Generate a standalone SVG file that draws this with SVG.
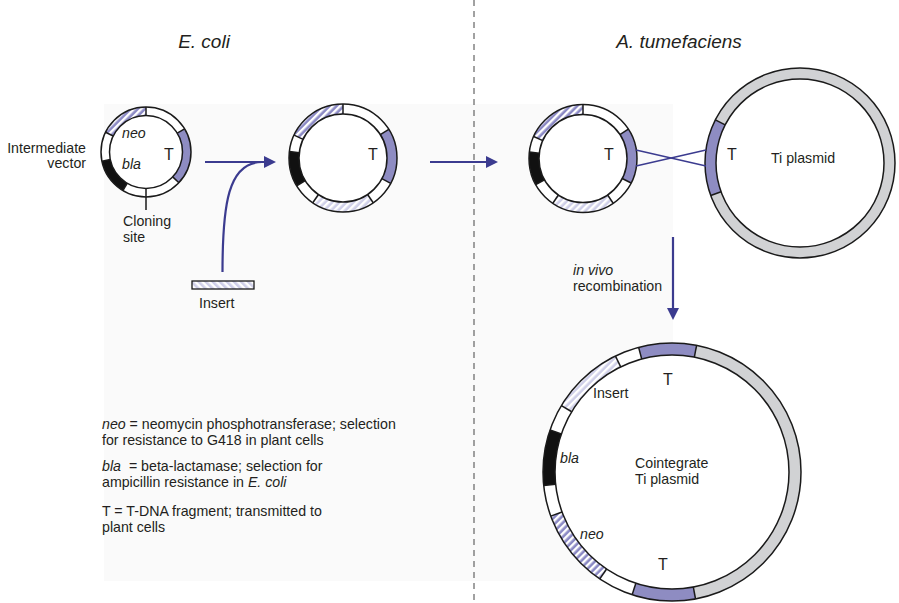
<svg xmlns="http://www.w3.org/2000/svg" width="899" height="603" viewBox="0 0 899 603">
  <defs>
    <pattern id="hatchDark" width="5" height="5" patternUnits="userSpaceOnUse" patternTransform="rotate(-45)">
      <rect width="5" height="5" fill="#ffffff"/>
      <rect width="2.6" height="5" fill="#8a88c4"/>
    </pattern>
    <pattern id="hatchLight" width="5" height="5" patternUnits="userSpaceOnUse" patternTransform="rotate(-45)">
      <rect width="5" height="5" fill="#ffffff"/>
      <rect width="2.6" height="5" fill="#cfcfe8"/>
    </pattern>
    <marker id="arrowhead" viewBox="0 0 12 12" refX="1" refY="6" markerWidth="12" markerHeight="12" markerUnits="userSpaceOnUse" orient="auto">
      <path d="M0,0 L12,6 L0,12 Z" fill="#3b3b8f"/>
    </marker>
  </defs>
  <style>
    text { font-family: "Liberation Sans", Arial, sans-serif; fill: #231f20; }
    .body { font-size: 14.2px; }
    .it { font-style: italic; }
    .head { font-size: 19px; font-style: italic; }
    .tlab { font-size: 16px; }
    .ring { fill: none; stroke: #1a1a1a; stroke-width: 1.5; }
    .seg { fill: none; }
    .div { stroke: #1a1a1a; stroke-width: 1.5; }
    .conn { fill: none; stroke: #3b3b8f; stroke-width: 2.2; }
    .cross { fill: none; stroke: #3b3b8f; stroke-width: 1.6; }
  </style>

  <rect width="899" height="603" fill="#ffffff"/>
  <!-- shaded panel behind the E. coli steps -->
  <rect x="104" y="104" width="569" height="477" fill="#fafafa"/>

  <!-- divider between the two hosts -->
  <line x1="474" y1="0" x2="474" y2="603" stroke="#444" stroke-width="1" stroke-dasharray="6 5"/>

  <text class="head" x="204" y="48" text-anchor="middle">E. coli</text>
  <text class="head" x="679" y="48" text-anchor="middle">A. tumefaciens</text>

  <!-- Intermediate vector -->
  <g id="intermediate-vector">
    <g transform="translate(146,152)">
      <circle r="36.5" fill="#ffffff"/>
      <g transform="rotate(-90)" stroke-width="8.5">
        <circle class="seg" r="40.75" pathLength="360" stroke="#ffffff"/>
        <circle class="seg" r="40.75" pathLength="360" stroke="url(#hatchDark)" stroke-dasharray="64 296" stroke-dashoffset="-296"/>
        <circle class="seg" r="40.75" pathLength="360" stroke="#8e8cc2" stroke-dasharray="74 286" stroke-dashoffset="-59"/>
        <circle class="seg" r="40.75" pathLength="360" stroke="#111111" stroke-dasharray="47 313" stroke-dashoffset="-211"/>
      </g>
      <circle class="ring" r="45"/>
      <circle class="ring" r="36.5"/>
      <g>
        <line class="div" x1="0" y1="-36.5" x2="0" y2="-45"/>
        <line class="div" x1="0" y1="-36.5" x2="0" y2="-45" transform="rotate(59)"/>
        <line class="div" x1="0" y1="-36.5" x2="0" y2="-45" transform="rotate(133)"/>
        <line class="div" x1="0" y1="-36.5" x2="0" y2="-45" transform="rotate(211)"/>
        <line class="div" x1="0" y1="-36.5" x2="0" y2="-45" transform="rotate(258)"/>
        <line class="div" x1="0" y1="-36.5" x2="0" y2="-45" transform="rotate(296)"/>
        <!-- cloning site tick -->
        <line class="div" x1="0" y1="36.5" x2="0" y2="58"/>
      </g>
    </g>
    <text class="body it" x="122" y="138">neo</text>
    <text class="body it" x="122" y="169">bla</text>
    <text class="tlab" x="169" y="160" text-anchor="middle">T</text>
    <text class="body" x="86" y="153" text-anchor="end">Intermediate</text>
    <text class="body" x="86" y="168" text-anchor="end">vector</text>
    <text class="body" x="123" y="226">Cloning</text>
    <text class="body" x="123" y="242">site</text>
  </g>

  <!-- Insert fragment -->
  <g id="insert">
    <rect x="192" y="281" width="62" height="8" fill="url(#hatchLight)" stroke="#1a1a1a" stroke-width="1.3"/>
    <text class="body" x="199" y="308">Insert</text>
  </g>

  <!-- Vector carrying the insert -->
  <g id="recombinant-vector">
    <g transform="translate(343,158)">
      <circle r="44" fill="#ffffff"/>
      <g transform="rotate(-90)" stroke-width="10">
        <circle class="seg" r="49" pathLength="360" stroke="#ffffff"/>
        <circle class="seg" r="49" pathLength="360" stroke="url(#hatchDark)" stroke-dasharray="65 295" stroke-dashoffset="-295"/>
        <circle class="seg" r="49" pathLength="360" stroke="#8e8cc2" stroke-dasharray="60 300" stroke-dashoffset="-58"/>
        <circle class="seg" r="49" pathLength="360" stroke="url(#hatchLight)" stroke-dasharray="68 292" stroke-dashoffset="-146"/>
        <circle class="seg" r="49" pathLength="360" stroke="#111111" stroke-dasharray="38 322" stroke-dashoffset="-239"/>
      </g>
      <circle class="ring" r="54"/>
      <circle class="ring" r="44"/>
      <line class="div" x1="0" y1="-44" x2="0" y2="-54"/>
      <line class="div" x1="0" y1="-44" x2="0" y2="-54" transform="rotate(58)"/>
      <line class="div" x1="0" y1="-44" x2="0" y2="-54" transform="rotate(118)"/>
      <line class="div" x1="0" y1="-44" x2="0" y2="-54" transform="rotate(146)"/>
      <line class="div" x1="0" y1="-44" x2="0" y2="-54" transform="rotate(214)"/>
      <line class="div" x1="0" y1="-44" x2="0" y2="-54" transform="rotate(239)"/>
      <line class="div" x1="0" y1="-44" x2="0" y2="-54" transform="rotate(277)"/>
      <line class="div" x1="0" y1="-44" x2="0" y2="-54" transform="rotate(295)"/>
    </g>
    <text class="tlab" x="373" y="160" text-anchor="middle">T</text>
  </g>

  <!-- Same vector inside Agrobacterium -->
  <g id="vector-in-agrobacterium">
    <g transform="translate(583,158.5)">
      <circle r="44" fill="#ffffff"/>
      <g transform="rotate(-90)" stroke-width="10">
        <circle class="seg" r="49" pathLength="360" stroke="#ffffff"/>
        <circle class="seg" r="49" pathLength="360" stroke="url(#hatchDark)" stroke-dasharray="66 294" stroke-dashoffset="-294"/>
        <circle class="seg" r="49" pathLength="360" stroke="#8e8cc2" stroke-dasharray="60 300" stroke-dashoffset="-57"/>
        <circle class="seg" r="49" pathLength="360" stroke="url(#hatchLight)" stroke-dasharray="68 292" stroke-dashoffset="-146"/>
        <circle class="seg" r="49" pathLength="360" stroke="#111111" stroke-dasharray="36 324" stroke-dashoffset="-241"/>
      </g>
      <circle class="ring" r="54"/>
      <circle class="ring" r="44"/>
      <line class="div" x1="0" y1="-44" x2="0" y2="-54"/>
      <line class="div" x1="0" y1="-44" x2="0" y2="-54" transform="rotate(57)"/>
      <line class="div" x1="0" y1="-44" x2="0" y2="-54" transform="rotate(117)"/>
      <line class="div" x1="0" y1="-44" x2="0" y2="-54" transform="rotate(146)"/>
      <line class="div" x1="0" y1="-44" x2="0" y2="-54" transform="rotate(214)"/>
      <line class="div" x1="0" y1="-44" x2="0" y2="-54" transform="rotate(241)"/>
      <line class="div" x1="0" y1="-44" x2="0" y2="-54" transform="rotate(277)"/>
      <line class="div" x1="0" y1="-44" x2="0" y2="-54" transform="rotate(294)"/>
    </g>
    <text class="tlab" x="609" y="160" text-anchor="middle">T</text>
  </g>

  <!-- Ti plasmid -->
  <g id="ti-plasmid">
    <g transform="translate(800,163)">
      <circle r="84" fill="#ffffff"/>
      <g transform="rotate(-90)" stroke-width="11">
        <circle class="seg" r="89.5" pathLength="360" stroke="#d1d2d4"/>
        <circle class="seg" r="89.5" pathLength="360" stroke="#8e8cc2" stroke-dasharray="47 313" stroke-dashoffset="-250"/>
      </g>
      <circle class="ring" r="95"/>
      <circle class="ring" r="84"/>
      <line class="div" x1="0" y1="-84" x2="0" y2="-95" transform="rotate(250)"/>
      <line class="div" x1="0" y1="-84" x2="0" y2="-95" transform="rotate(297)"/>
    </g>
    <text class="tlab" x="732" y="160" text-anchor="middle">T</text>
    <text class="body" x="803" y="163" text-anchor="middle">Ti plasmid</text>
  </g>

  <!-- Cointegrate Ti plasmid -->
  <g id="cointegrate">
    <g transform="translate(672,472)">
      <circle r="117" fill="#ffffff"/>
      <g transform="rotate(-90)" stroke-width="12">
        <circle class="seg" r="123" pathLength="360" stroke="#ffffff"/>
        <circle class="seg" r="123" pathLength="360" stroke="#d1d2d4" stroke-dasharray="158.5 201.5" stroke-dashoffset="-11"/>
        <circle class="seg" r="123" pathLength="360" stroke="#8e8cc2" stroke-dasharray="26 334" stroke-dashoffset="-345"/>
        <circle class="seg" r="123" pathLength="360" stroke="#8e8cc2" stroke-dasharray="28.5 331.5" stroke-dashoffset="-169.5"/>
        <circle class="seg" r="123" pathLength="360" stroke="url(#hatchDark)" stroke-dasharray="36 324" stroke-dashoffset="-214"/>
        <circle class="seg" r="123" pathLength="360" stroke="#111111" stroke-dasharray="25 335" stroke-dashoffset="-264"/>
        <circle class="seg" r="123" pathLength="360" stroke="url(#hatchLight)" stroke-dasharray="33 327" stroke-dashoffset="-301"/>
      </g>
      <circle class="ring" r="129"/>
      <circle class="ring" r="117"/>
      <line class="div" x1="0" y1="-117" x2="0" y2="-129" transform="rotate(11)"/>
      <line class="div" x1="0" y1="-117" x2="0" y2="-129" transform="rotate(169.5)"/>
      <line class="div" x1="0" y1="-117" x2="0" y2="-129" transform="rotate(198)"/>
      <line class="div" x1="0" y1="-117" x2="0" y2="-129" transform="rotate(214)"/>
      <line class="div" x1="0" y1="-117" x2="0" y2="-129" transform="rotate(250)"/>
      <line class="div" x1="0" y1="-117" x2="0" y2="-129" transform="rotate(264)"/>
      <line class="div" x1="0" y1="-117" x2="0" y2="-129" transform="rotate(289)"/>
      <line class="div" x1="0" y1="-117" x2="0" y2="-129" transform="rotate(301)"/>
      <line class="div" x1="0" y1="-117" x2="0" y2="-129" transform="rotate(334)"/>
      <line class="div" x1="0" y1="-117" x2="0" y2="-129" transform="rotate(345)"/>
    </g>
    <text class="tlab" x="668" y="385" text-anchor="middle">T</text>
    <text class="body" x="593" y="398">Insert</text>
    <text class="body it" x="560" y="463">bla</text>
    <text class="body" x="635" y="468">Cointegrate</text>
    <text class="body" x="635" y="484">Ti plasmid</text>
    <text class="body it" x="580" y="539">neo</text>
    <text class="tlab" x="663" y="570" text-anchor="middle">T</text>
  </g>

  <!-- connectors -->
  <g id="connectors">
    <path class="conn" d="M222.5,272 C222.5,205 228,162 262,162"/>
    <path class="conn" d="M205,162 H265" marker-end="url(#arrowhead)"/>
    <path class="conn" d="M430,162 H487" marker-end="url(#arrowhead)"/>
    <path class="conn" d="M673,237 V309" marker-end="url(#arrowhead)"/>
    <!-- crossover between the two T regions -->
    <path class="cross" d="M636,150 L706,166"/>
    <path class="cross" d="M636,166 L706,150"/>
  </g>
  <text class="body it" x="573" y="275">in vivo</text>
  <text class="body" x="573" y="291">recombination</text>

  <!-- key -->
  <g id="legend">
    <text class="body" x="102" y="429"><tspan class="it">neo</tspan> = neomycin phosphotransferase; selection</text>
    <text class="body" x="102" y="445">for resistance to G418 in plant cells</text>
    <text class="body" x="102" y="471"><tspan class="it">bla</tspan><tspan dx="4"> = beta-lactamase; selection for</tspan></text>
    <text class="body" x="102" y="487">ampicillin resistance in <tspan class="it">E. coli</tspan></text>
    <text class="body" x="102" y="516">T = T-DNA fragment; transmitted to</text>
    <text class="body" x="102" y="532">plant cells</text>
  </g>
</svg>
